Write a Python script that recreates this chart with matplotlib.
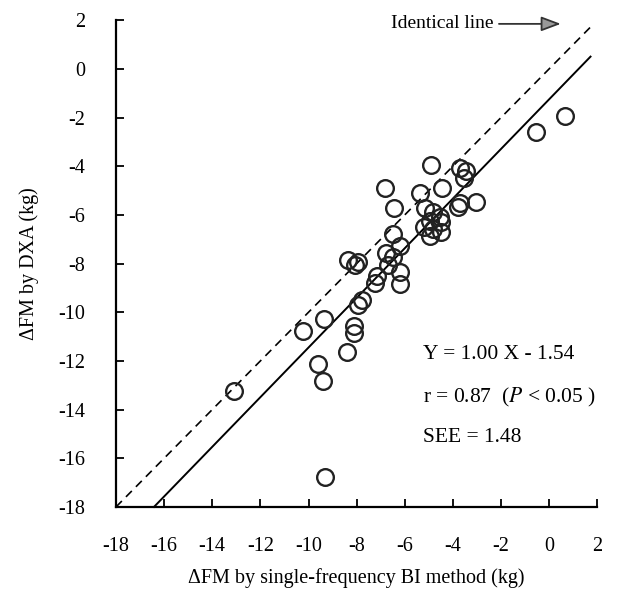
import matplotlib.pyplot as plt

plt.rcParams['font.family'] = ['Liberation Serif', 'DejaVu Serif']
plt.rcParams['axes.unicode_minus'] = False
plt.rcParams['mathtext.fontset'] = 'stix'

# delta FM by single-frequency BI (x) and by DXA (y), kg
bi_fm = [0.66, -0.55, -4.90, -3.72, -3.45, -3.52, -4.46, -6.83, -5.38, -3.72,
         -3.03, -3.79, -6.44, -5.17, -4.83, -4.55, -4.48, -4.97, -5.20, -4.83,
         -4.48, -4.97, -6.48, -6.21, -6.76, -6.48, -8.34, -7.93, -8.07, -6.69,
         -6.21, -7.17, -7.24, -6.21, -7.79, -7.93, -9.34, -10.23, -8.10, -8.10,
         -8.39, -9.59, -9.38, -13.10, -9.31]
dxa_fm = [-1.94, -2.58, -3.93, -4.06, -4.20, -4.48, -4.88, -4.91, -5.12, -5.49,
          -5.48, -5.66, -5.73, -5.73, -5.87, -6.09, -6.30, -6.23, -6.51, -6.58,
          -6.72, -6.87, -6.79, -7.29, -7.57, -7.72, -7.86, -7.93, -8.07, -8.07,
          -8.35, -8.50, -8.78, -8.85, -9.49, -9.70, -10.27, -10.79, -10.55, -10.84,
          -11.65, -12.11, -12.82, -13.25, -16.75]

# regression line as drawn in the picture
reg_x = [-16.42, 1.72]
reg_slope = 1.02
reg_int = -1.25
ident_x = [-18, 1.7]

fig = plt.figure(figsize=(6.17, 5.95), dpi=100)
ax = fig.add_axes([0.188, 0.148, 0.78, 0.818])

ax.plot(ident_x, ident_x, 'k--', lw=1.2, dashes=(5, 3.5), clip_on=False)
ax.plot(reg_x, [reg_slope * v + reg_int for v in reg_x], 'k-', lw=1.4, clip_on=False)
ax.plot(bi_fm, dxa_fm, 'o', ms=12, mfc='none', mec='#222222', mew=1.7, clip_on=False)

ax.set_xlim(-18, 2)
ax.set_ylim(-18, 2)
ax.set_xticks(range(-18, 3, 2))
ax.set_yticks(range(-18, 3, 2))
for s in ['top', 'right']:
    ax.spines[s].set_visible(False)
for s in ['left', 'bottom']:
    ax.spines[s].set_linewidth(1.6)
ax.tick_params(direction='in', length=6, width=1.3, labelsize=14.5)
ax.tick_params(axis='x', pad=22)
ax.tick_params(axis='y', pad=22)

ax.set_xlabel('ΔFM by single-frequency BI method (kg)', fontsize=14.5, labelpad=8)
ax.set_ylabel('ΔFM by DXA (kg)', fontsize=14.5, labelpad=14)

ax.annotate('', xy=(0.6, 1.85), xytext=(-2.2, 1.85),
            arrowprops=dict(arrowstyle='-|>,head_length=1.2,head_width=0.45',
                            fc='#999999', ec='#333333', lw=1.3))
ax.text(-2.3, 1.85, 'Identical line', fontsize=14, ha='right', va='center')

ax.text(-5.25, -11.75, 'Y = 1.00 X - 1.54', fontsize=15.5, va='center')
ax.text(-5.25, -13.5, 'r = 0.87  ($\\mathit{P}$ < 0.05 )', fontsize=15.5, va='center')
ax.text(-5.25, -15.15, 'SEE = 1.48', fontsize=15.5, va='center')

fig.savefig('out.png', dpi=100)
